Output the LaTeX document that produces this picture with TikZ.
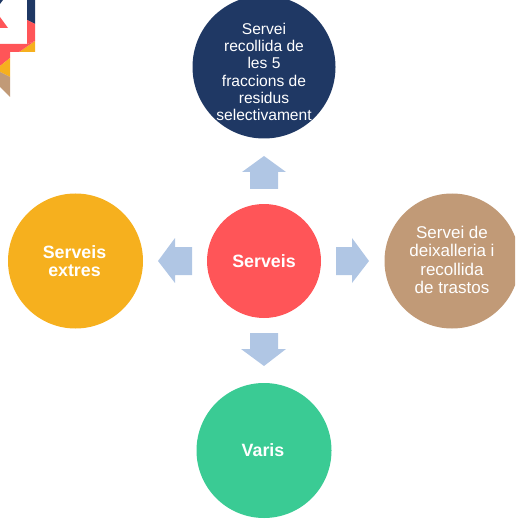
\documentclass[tikz,border=0pt]{standalone}
\usepackage{fontspec}
\setmainfont{Liberation Sans}
\definecolor{navy}{HTML}{1F3864}
\definecolor{coral}{HTML}{FF5558}
\definecolor{tan}{HTML}{C19A77}
\definecolor{gold}{HTML}{F6B01E}
\definecolor{mint}{HTML}{3ACB94}
\definecolor{arrowblue}{HTML}{B0C6E4}
\tikzset{
  disc/.style={circle,inner sep=0pt,minimum size=#1,text=white},
  lab/.style={text=white,align=center,inner sep=0pt,font=\fontsize{15.6}{17.2}\selectfont},
  rlab/.style={text=white,align=center,inner sep=0pt,font=\fontsize{17}{18.5}\selectfont},
  blab/.style={text=white,align=center,inner sep=0pt,font=\fontsize{17.8}{18}\selectfont\bfseries},
  arrowshape/.style={fill=arrowblue,draw=none}
}
\begin{document}
\begin{tikzpicture}[x=1pt,y=-1pt]
\useasboundingbox (0,0) rectangle (515,521);
\clip (0,0) rectangle (515,521);
% logo
\fill[navy] (0,0) -- (3,0) -- (0,4) -- cycle;
\fill[navy] (27,0) -- (35,0) -- (35,24) -- (27,20) -- cycle;
\fill[coral] (27,20) -- (35,24) -- (35,41) -- (27,44) -- cycle;
\fill[gold] (35,41) -- (35,52) -- (19,52) -- cycle;
\fill[coral] (0,44) -- (27,44) -- (35,41) -- (19,52) -- (10,52) -- (10,58) -- (0,66) -- cycle;
\fill[gold] (10,58) -- (10,77) -- (0,72) -- (0,66) -- cycle;
\fill[tan] (0,72) -- (10,77) -- (10,97) -- (0,87) -- cycle;
\fill[coral] (0,17) -- (8,28) -- (0,28) -- cycle;
% circles
\node[disc=143,fill=navy] (top) at (264,67) {};
\node[lab] (toplab) at (264,72) {Servei\\recollida de\\les 5\\fraccions de\\residus\\selectivament};
\node[disc=114,fill=coral] (center) at (264,261) {};
\node[blab] (centerlab) at (264,261) {Serveis};
\node[disc=135,fill=gold] (left) at (75.5,261) {};
\node[blab] (leftlab) at (74.5,261) {Serveis\\extres};
\node[disc=135,fill=tan] (right) at (452,261) {};
\node[rlab] (rightlab) at (452,260) {Servei de\\deixalleria i\\recollida\\de trastos};
\node[disc=135,fill=mint] (bottom) at (264,450.5) {};
\node[blab] (bottomlab) at (263,450) {Varis};
% arrows
\fill[arrowshape] (264,156) -- (286,172) -- (278,172) -- (278,189) -- (250,189) -- (250,172) -- (242,172) -- cycle;
\fill[arrowshape] (158,261) -- (175,238) -- (175,247) -- (192,247) -- (192,275) -- (175,275) -- (175,283) -- cycle;
\fill[arrowshape] (369,261) -- (352,238) -- (352,247) -- (336,247) -- (336,275) -- (352,275) -- (352,283) -- cycle;
\fill[arrowshape] (264,366) -- (241,349) -- (250,349) -- (250,333) -- (278,333) -- (278,349) -- (286,349) -- cycle;
\end{tikzpicture}
\end{document}
